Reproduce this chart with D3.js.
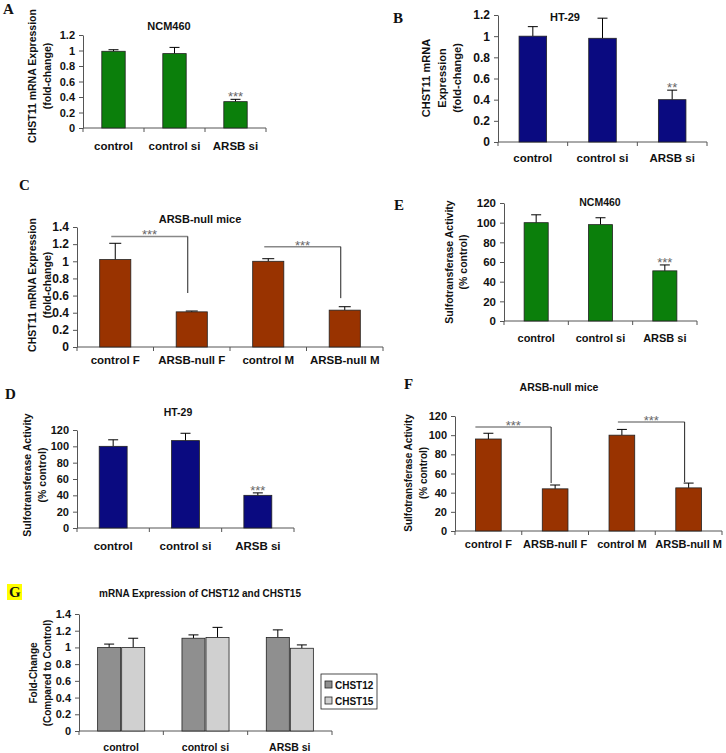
<!DOCTYPE html>
<html><head><meta charset="utf-8">
<script src="https://cdn.jsdelivr.net/npm/d3@7/dist/d3.min.js"></script>
<style>body{margin:0;background:#fff}svg{display:block}</style>
</head><body><svg id="c" width="726" height="753"></svg>
<script>
// ---------------- DATA ----------------
const catsSi = ["control", "control si", "ARSB si"];
const catsMice = ["control F", "ARSB-null F", "control M", "ARSB-null M"];
const ticksFold12 = [0, 0.2, 0.4, 0.6, 0.8, 1, 1.2];
const ticksFold14 = [0, 0.2, 0.4, 0.6, 0.8, 1, 1.2, 1.4];
const ticksPct = [0, 20, 40, 60, 80, 100, 120];

// A: NCM460 CHST11 mRNA
const valsA = [0.99, 0.96, 0.34];
const errA = [0.02, 0.08, 0.03];
const sigA = ["", "", "***"];
// B: HT-29 CHST11 mRNA
const valsB = [1.0, 0.98, 0.40];
const errB = [0.09, 0.19, 0.09];
const sigB = ["", "", "**"];
// C: ARSB-null mice CHST11 mRNA
const valsC = [1.02, 0.41, 1.0, 0.43];
const errC = [0.19, 0.01, 0.03, 0.04];
const bracketsC = [{a: 0, b: 1, level: 1.29, end: 0.63}, {a: 2, b: 3, level: 1.17, end: 0.57}];
// D: HT-29 sulfotransferase activity
const valsD = [100, 107, 40];
const errD = [8, 9, 3];
const sigD = ["", "", "***"];
// E: NCM460 sulfotransferase activity
const valsE = [100, 98, 51];
const errE = [8, 7, 6];
const sigE = ["", "", "***"];
// F: ARSB-null mice sulfotransferase activity
const valsF = [96, 44, 100, 45];
const errF = [6, 4, 6, 5];
const bracketsF = [{a: 0, b: 1, level: 108.5, end: 50}, {a: 2, b: 3, level: 113.8, end: 51}];
// G: CHST12 / CHST15
const seriesG = ["CHST12", "CHST15"];
const valsG12 = [1.0, 1.11, 1.12];
const errG12 = [0.04, 0.04, 0.09];
const valsG15 = [1.0, 1.12, 0.99];
const errG15 = [0.11, 0.12, 0.04];

// ---------------- DRAW ----------------
const svg = d3.select("#c");
const SANS = "'Liberation Sans', Arial, sans-serif";
const SERIF = "'Liberation Serif', 'Times New Roman', serif";
const AX = "#555";

function fmt(d){ return d3.format("~g")(d); }

function panel(o) {
  const g = svg.append("g");
  const x = d3.scaleBand().domain(o.cats).range([o.x0, o.x1]);
  const y = d3.scaleLinear().domain([0, o.ymax]).range([o.yZero, o.yTop]);

  // y axis
  const ya = g.append("g").attr("transform", `translate(${o.x0},0)`)
    .call(d3.axisLeft(y).tickValues(o.ticks).tickFormat(fmt).tickSizeOuter(0).tickSizeInner(4).tickPadding(4));
  ya.select(".domain").attr("stroke", AX);
  ya.selectAll(".tick line").attr("stroke", AX);
  ya.selectAll(".tick text").attr("font-family", SANS).attr("font-weight", "bold")
    .attr("font-size", o.tickFs).attr("fill", "#111");

  // x axis
  const xa = g.append("g").attr("transform", `translate(0,${o.yZero})`)
    .call(d3.axisBottom(x).tickSize(0).tickFormat(""));
  xa.select(".domain").attr("stroke", AX).attr("d", `M${o.x0},0H${o.x1}`);
  const bounds = o.cats.map(c => x(c)).concat([o.x1]);
  g.selectAll(".bt").data(bounds).enter().append("line")
    .attr("x1", d => d).attr("x2", d => d).attr("y1", o.yZero).attr("y2", o.yZero + 4)
    .attr("stroke", AX);
  g.selectAll(".xl").data(o.cats).enter().append("text")
    .attr("x", d => x(d) + x.bandwidth() / 2).attr("y", o.xLabY)
    .attr("text-anchor", "middle").attr("dy", "0.35em")
    .attr("font-family", SANS).attr("font-weight", "bold").attr("font-size", o.xFs).attr("fill", "#111")
    .text(d => d);

  // bars
  const groupW = x.bandwidth() * o.barFrac;
  const xs = d3.scaleBand().domain(d3.range(o.series.length)).range([0, groupW]);
  o.series.forEach((s, si) => {
    const cx = c => x(c) + (x.bandwidth() - groupW) / 2 + xs(si) + xs.bandwidth() / 2;
    const data = o.cats.map((c, i) => ({c, v: s.vals[i], e: s.errs[i], sig: s.sig ? s.sig[i] : ""}));
    // error bars
    g.selectAll(null).data(data).enter().append("line")
      .attr("x1", d => cx(d.c)).attr("x2", d => cx(d.c))
      .attr("y1", d => y(d.v)).attr("y2", d => y(d.v + d.e)).attr("stroke", "#000").attr("stroke-width", 1);
    g.selectAll(null).data(data).enter().append("line")
      .attr("x1", d => cx(d.c) - o.cap / 2).attr("x2", d => cx(d.c) + o.cap / 2)
      .attr("y1", d => y(d.v + d.e)).attr("y2", d => y(d.v + d.e)).attr("stroke", "#000").attr("stroke-width", 1);
    g.selectAll(null).data(data).enter().append("rect")
      .attr("x", d => cx(d.c) - xs.bandwidth() / 2 + 0.5).attr("width", xs.bandwidth() - 1)
      .attr("y", d => y(d.v)).attr("height", d => o.yZero - y(d.v))
      .attr("fill", s.color).attr("stroke", "#222").attr("stroke-width", 0.8);
    g.selectAll(null).data(data.filter(d => d.sig)).enter().append("text")
      .attr("x", d => cx(d.c)).attr("y", d => y(d.v + d.e) + 2)
      .attr("text-anchor", "middle").attr("font-family", SANS).attr("font-size", 13).attr("fill", "#666")
      .text(d => d.sig);
  });

  // brackets
  (o.brackets || []).forEach(b => {
    const xa1 = x(o.cats[b.a]) + x.bandwidth() / 2 - (b.offA || 4);
    const xb1 = x(o.cats[b.b]) + x.bandwidth() / 2 - 4;
    g.append("line").attr("x1", xa1).attr("x2", xb1).attr("y1", y(b.level)).attr("y2", y(b.level))
      .attr("stroke", "#888").attr("stroke-width", 1.5);
    g.append("line").attr("x1", xb1).attr("x2", xb1).attr("y1", y(b.level)).attr("y2", y(b.end))
      .attr("stroke", "#222").attr("stroke-width", 1);
    g.append("text").attr("x", (xa1 + xb1) / 2).attr("y", y(b.level) + 3)
      .attr("text-anchor", "middle").attr("font-family", SANS).attr("font-size", 13).attr("fill", "#666").text("***");
  });

  // title
  g.append("text").attr("x", o.title[1]).attr("y", o.title[2]).attr("dy", "0.35em")
    .attr("text-anchor", "middle").attr("font-family", SANS).attr("font-weight", "bold")
    .attr("font-size", o.titleFs).attr("fill", "#111").text(o.title[0]);

  // y label lines
  o.yLab.forEach((t, i) => {
    g.append("text").attr("transform", `translate(${o.yLabX[i]},${o.yLabCY}) rotate(-90)`)
      .attr("text-anchor", "middle").attr("dy", "0.35em")
      .attr("font-family", SANS).attr("font-weight", "bold").attr("font-size", o.yFs).attr("fill", "#111")
      .text(t);
  });

  // panel letter
  if (o.hl) {
    svg.append("rect").attr("x", o.letter[1] - 2).attr("y", o.letter[2] - 13).attr("width", 15).attr("height", 16)
      .attr("fill", "#ffff00");
  }
  svg.append("text").attr("x", o.letter[1]).attr("y", o.letter[2])
    .attr("font-family", SERIF).attr("font-weight", "bold").attr("font-size", 15).attr("fill", "#111")
    .text(o.letter[0]);
  return {g, x, y};
}

const GREEN = "#0b7f0b", NAVY = "#0a0a80", RUST = "#993300";

panel({cats: catsSi, x0: 83, x1: 266, yZero: 128, yTop: 35, ymax: 1.2, ticks: ticksFold12,
  series: [{vals: valsA, errs: errA, sig: sigA, color: GREEN}], barFrac: 0.4, cap: 10,
  tickFs: 11, xFs: 11.5, titleFs: 11, yFs: 10.5, xLabY: 146,
  title: ["NCM460", 169, 26], yLab: ["CHST11 mRNA Expression", "(fold-change)"], yLabX: [32, 47], yLabCY: 76,
  letter: ["A", 3, 14]});

panel({cats: catsSi, x0: 498, x1: 707, yZero: 142, yTop: 15, ymax: 1.2, ticks: ticksFold12,
  series: [{vals: valsB, errs: errB, sig: sigB, color: NAVY}], barFrac: 0.41, cap: 10,
  tickFs: 12, xFs: 11.5, titleFs: 11, yFs: 11, xLabY: 158,
  title: ["HT-29", 565, 17], yLab: ["CHST11 mRNA", "Expression", "(fold-change)"], yLabX: [426, 442, 457], yLabCY: 78,
  letter: ["B", 393, 23]});

panel({cats: catsMice, x0: 77, x1: 383, yZero: 347, yTop: 227, ymax: 1.4, ticks: ticksFold14,
  series: [{vals: valsC, errs: errC, color: RUST}], barFrac: 0.42, cap: 12,
  brackets: bracketsC,
  tickFs: 12, xFs: 11.5, titleFs: 11, yFs: 10.5, xLabY: 360,
  title: ["ARSB-null mice", 200, 219], yLab: ["CHST11 mRNA Expression", "(fold-change)"], yLabX: [32, 47], yLabCY: 285,
  letter: ["C", 19, 190]});

panel({cats: catsSi, x0: 504, x1: 697, yZero: 321, yTop: 203, ymax: 120, ticks: ticksPct,
  series: [{vals: valsE, errs: errE, sig: sigE, color: GREEN}], barFrac: 0.39, cap: 10,
  tickFs: 11.5, xFs: 11, titleFs: 10.5, yFs: 10.5, xLabY: 338,
  title: ["NCM460", 600, 202], yLab: ["Sulfotransferase Activity", "(% control)"], yLabX: [449, 463], yLabCY: 262,
  letter: ["E", 394, 210]});

panel({cats: catsSi, x0: 77, x1: 294, yZero: 528, yTop: 430, ymax: 120, ticks: ticksPct,
  series: [{vals: valsD, errs: errD, sig: sigD, color: NAVY}], barFrac: 0.4, cap: 10,
  tickFs: 11, xFs: 11.5, titleFs: 10.5, yFs: 10.5, xLabY: 546,
  title: ["HT-29", 178, 412], yLab: ["Sulfotransferase Activity", "(% control)"], yLabX: [27, 42], yLabCY: 475,
  letter: ["D", 5, 399]});

panel({cats: catsMice, x0: 455, x1: 722, yZero: 531, yTop: 416, ymax: 120, ticks: ticksPct,
  series: [{vals: valsF, errs: errF, color: RUST}], barFrac: 0.4, cap: 10,
  brackets: [Object.assign({offA: 13}, bracketsF[0]), bracketsF[1]],
  tickFs: 11, xFs: 11, titleFs: 10.5, yFs: 10, xLabY: 544,
  title: ["ARSB-null mice", 559, 387], yLab: ["Sulfotransferase Activity", "(% control)"], yLabX: [408, 423], yLabCY: 473,
  letter: ["F", 404, 389]});

const G = panel({cats: catsSi, x0: 79, x1: 332, yZero: 731, yTop: 614, ymax: 1.4, ticks: ticksFold14,
  series: [{vals: valsG12, errs: errG12, color: "#8f8f8f"}, {vals: valsG15, errs: errG15, color: "#d0d0d0"}],
  barFrac: 0.57, cap: 10,
  tickFs: 11, xFs: 10.5, titleFs: 10, yFs: 10, xLabY: 747,
  title: ["mRNA Expression of CHST12 and CHST15", 200, 593], yLab: ["Fold-Change", "(Compared to Control)"], yLabX: [33, 47], yLabCY: 673,
  letter: ["G", 9, 597], hl: true});

// legend G
const lg = svg.append("g");
lg.append("rect").attr("x", 321).attr("y", 674).attr("width", 56).attr("height", 35)
  .attr("fill", "#fff").attr("stroke", "#222").attr("stroke-width", 0.8);
const legColors = ["#8f8f8f", "#d0d0d0"];
seriesG.forEach((s, i) => {
  lg.append("rect").attr("x", 325).attr("y", 681 + i * 16).attr("width", 7).attr("height", 7)
    .attr("fill", legColors[i]).attr("stroke", "#222").attr("stroke-width", 0.8);
  lg.append("text").attr("x", 335).attr("y", 685 + i * 16).attr("dy", "0.35em")
    .attr("font-family", SANS).attr("font-weight", "bold").attr("font-size", 10).attr("fill", "#111").text(s);
});
</script>
</body></html>
